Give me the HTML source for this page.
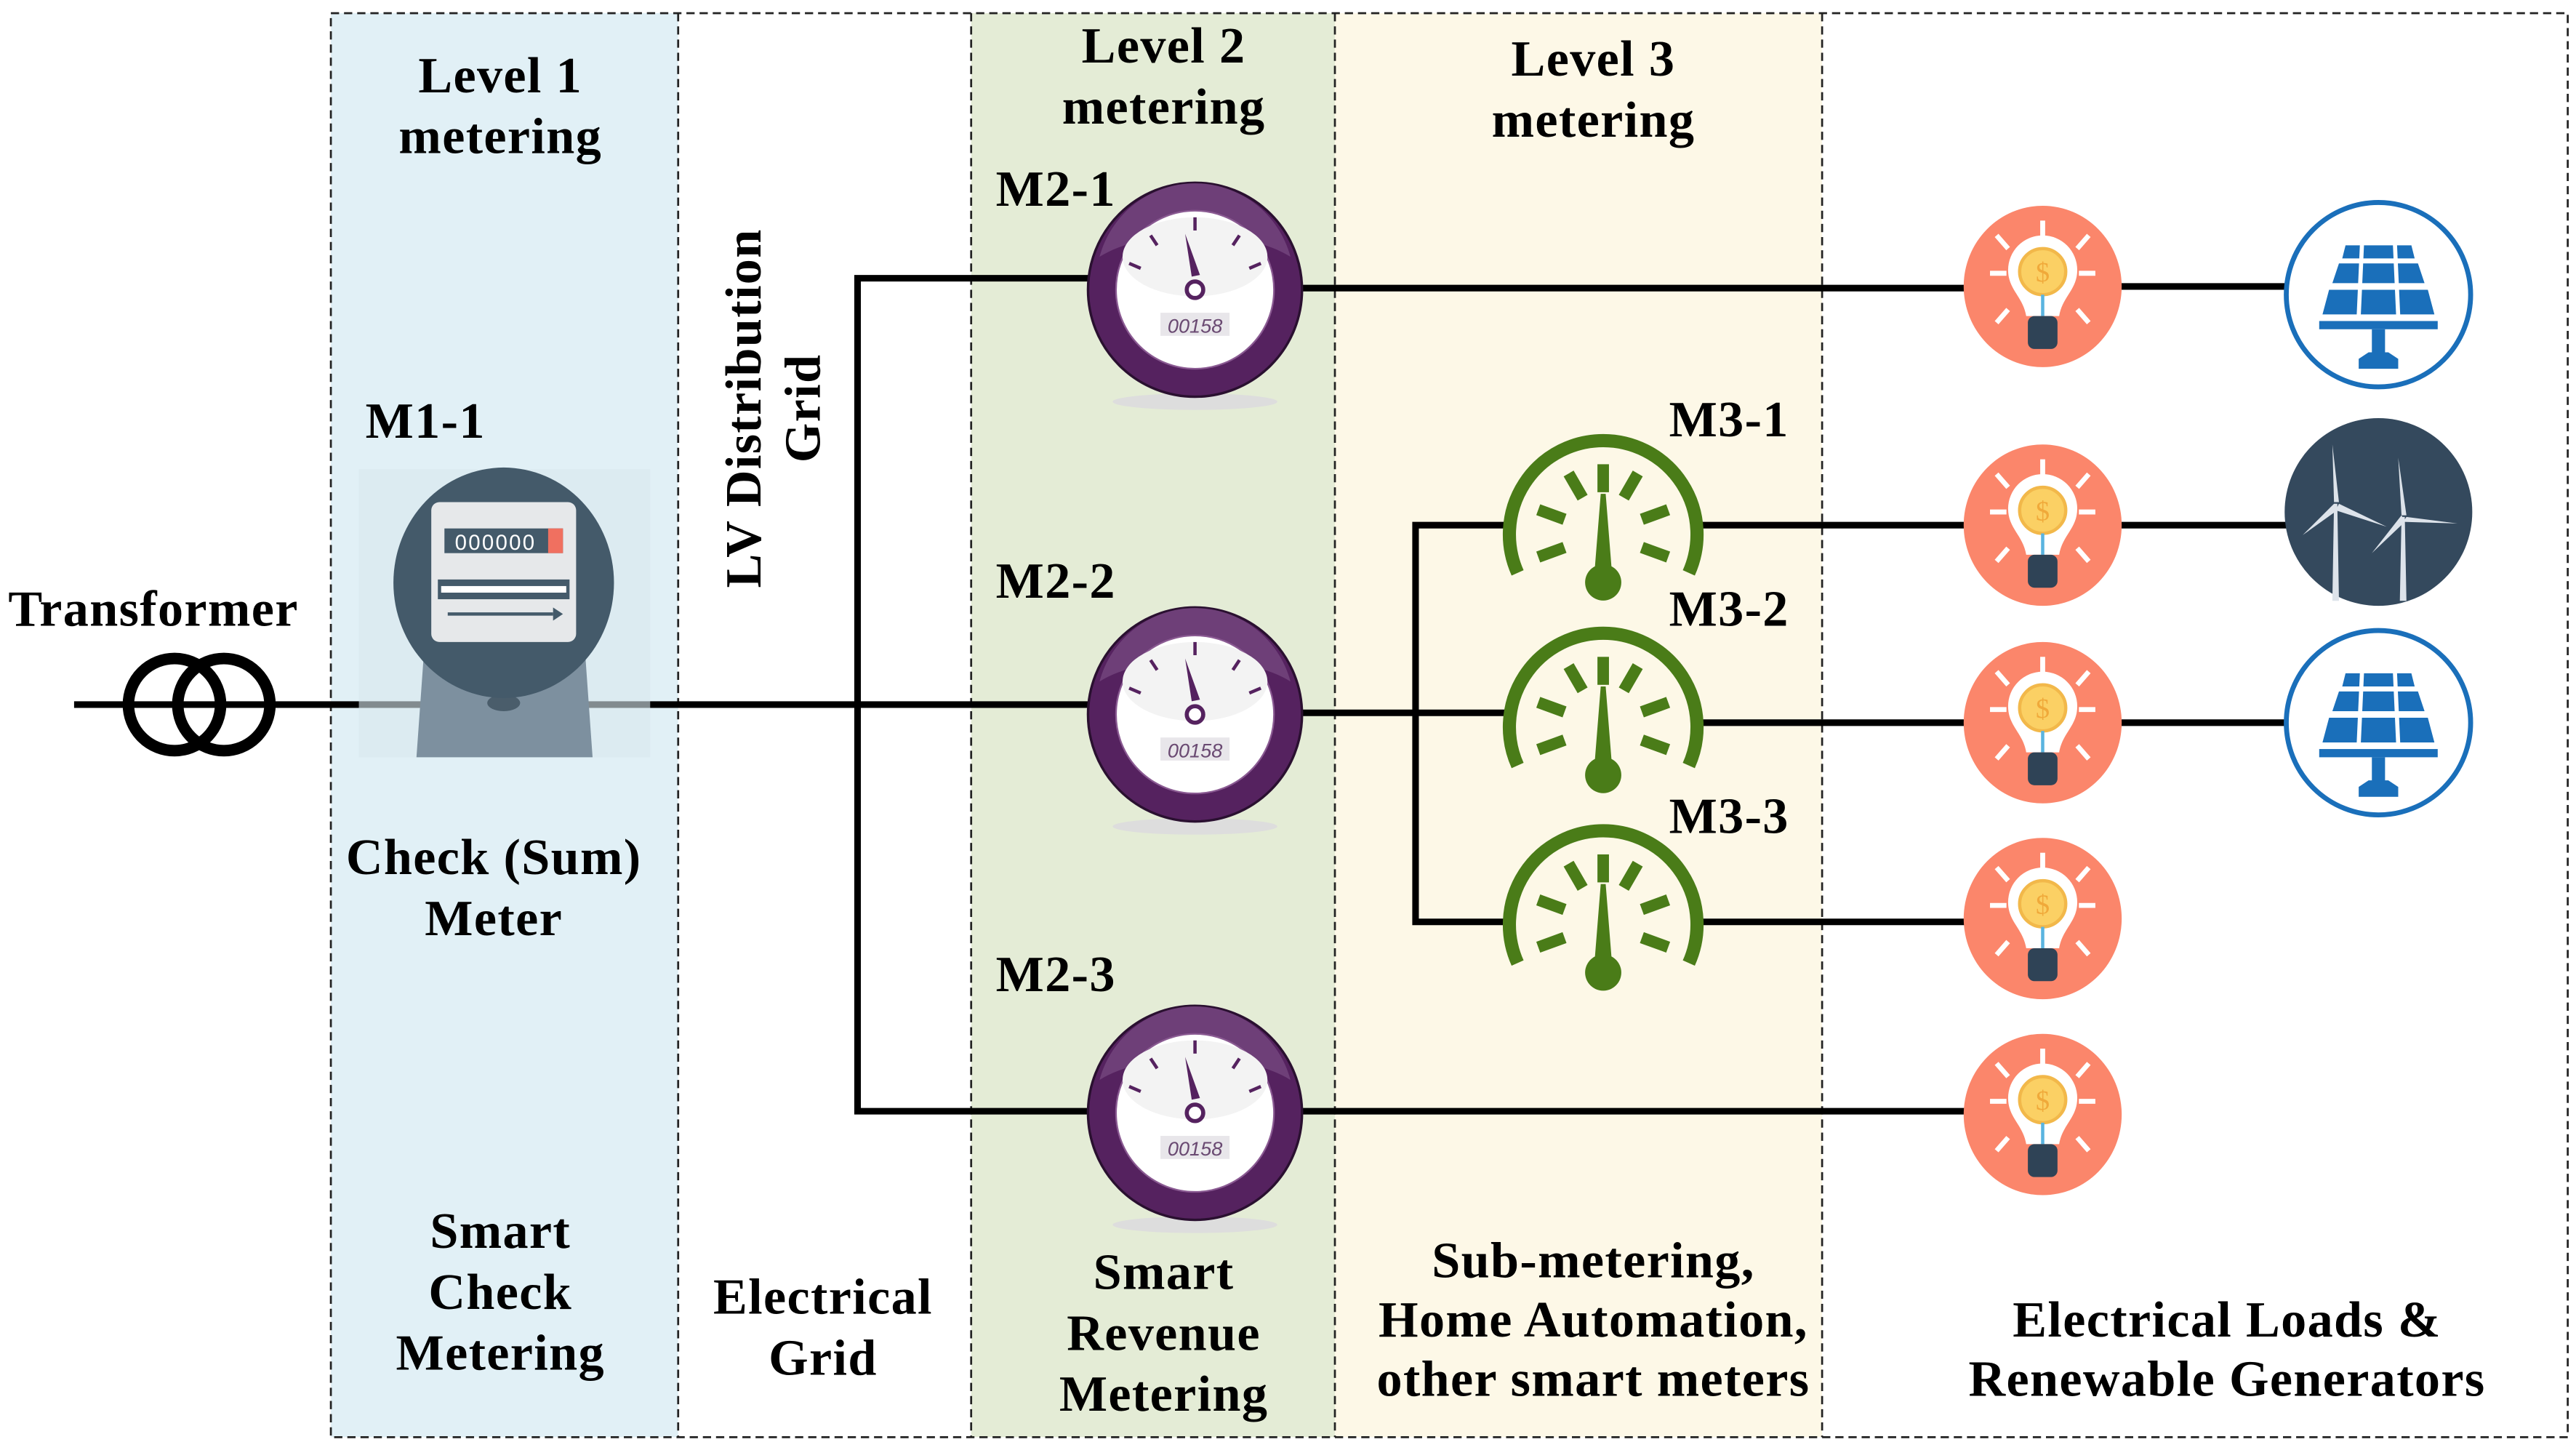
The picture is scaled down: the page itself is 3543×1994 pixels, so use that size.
<!DOCTYPE html>
<html><head><meta charset="utf-8"><style>
html,body{margin:0;padding:0;background:#fff;}
svg{display:block;}
text{font-family:"Liberation Serif",serif;font-weight:bold;fill:#000;}
.lb{letter-spacing:0.6px;}
</style></head><body>
<svg width="3543" height="1994" viewBox="0 0 1565 880.8" xmlns="http://www.w3.org/2000/svg">
<defs>
<g id="pm">
  <ellipse cx="0" cy="68" rx="50" ry="5" fill="#ddd"/>
  <circle r="65" fill="#55225f" stroke="#2a1030" stroke-width="1.5"/>
  <path d="M-58,-20 A60,60 0 0 1 58,-20 A70,30 0 0 0 -58,-20Z" fill="#6e3f78"/>
  <circle r="48" fill="#fff" stroke="#8a5a92" stroke-width="1"/>
  <ellipse cx="0" cy="-20" rx="44" ry="24" fill="#f3f3f3"/>
  <g stroke="#55225f" stroke-width="2">
    <line x1="0" y1="-44" x2="0" y2="-36"/><line x1="-27" y1="-33" x2="-23" y2="-27"/><line x1="27" y1="-33" x2="23" y2="-27"/>
    <line x1="-40" y1="-16" x2="-33" y2="-13"/><line x1="40" y1="-16" x2="33" y2="-13"/>
  </g>
  <polygon points="-6,-34 -2,-8 3,-9" fill="#55225f"/>
  <circle cx="0" cy="0" r="5" fill="#fff" stroke="#55225f" stroke-width="2.5"/>
  <rect x="-21" y="14" width="42" height="14" fill="#e8e6ea"/>
  <text x="0" y="26" font-size="12" text-anchor="middle" style="font-weight:normal;font-style:italic;fill:#6a4a72;font-family:'Liberation Sans',sans-serif">00158</text>
</g>
<g id="gg" fill="#4a7c18">
  <path d="M-52,24 A57,57 0 1 1 52,24" fill="none" stroke="#4a7c18" stroke-width="8"/>
  <rect x="-3.5" y="-42" width="7" height="17"/>
  <rect x="-3.5" y="-42" width="7" height="17" transform="rotate(-30)"/>
  <rect x="-3.5" y="-42" width="7" height="17" transform="rotate(30)"/>
  <rect x="-3.5" y="-42" width="7" height="17" transform="rotate(-70)"/>
  <rect x="-3.5" y="-42" width="7" height="17" transform="rotate(70)"/>
  <rect x="-3.5" y="-42" width="7" height="17" transform="rotate(-110)"/>
  <rect x="-3.5" y="-42" width="7" height="17" transform="rotate(110)"/>
  <path d="M-1.5,-24 L1.5,-24 L5,20 A11,11 0 1 1 -5,20Z"/>
</g>
<g id="bulb">
  <ellipse rx="48" ry="49" fill="#fb866b"/>
  <g stroke="#fff" stroke-width="3">
    <line x1="0" y1="-40" x2="0" y2="-30"/><line x1="-28" y1="-31" x2="-21" y2="-23"/><line x1="28" y1="-31" x2="21" y2="-23"/>
    <line x1="-32" y1="-8" x2="-22" y2="-8"/><line x1="32" y1="-8" x2="22" y2="-8"/>
    <line x1="-28" y1="22" x2="-21" y2="14"/><line x1="28" y1="22" x2="21" y2="14"/>
  </g>
  <path d="M-10,18 C-12,6 -21,2 -21,-10 A21,21 0 0 1 21,-10 C21,2 12,6 10,18Z" fill="#fff"/>
  <circle cx="0" cy="-9" r="14" fill="#fbd064" stroke="#f2b84a" stroke-width="2"/>
  <text x="0" y="-3" font-size="17" text-anchor="middle" style="fill:#f0a93a;font-weight:normal">$</text>
  <line x1="0" y1="5" x2="0" y2="18" stroke="#5ab4e0" stroke-width="2"/>
  <rect x="-9" y="18" width="18" height="20" rx="4" fill="#2f4356"/>
</g>
<g id="solar">
  <ellipse rx="56" ry="56" fill="#fff" stroke="#1a6fba" stroke-width="3"/>
  <g fill="#1a6fba">
    <polygon points="-34,12 34,12 30,-3 -30,-3"/>
    <polygon points="-28,-7 28,-7 24,-19 -24,-19"/>
    <polygon points="-22,-22 22,-22 20,-30 -20,-30"/>
    <rect x="-36" y="16" width="72" height="5"/>
    <rect x="-4" y="21" width="8" height="18"/>
    <path d="M-12,45 L-12,39 L-6,35 L6,35 L12,39 L12,45Z"/>
  </g>
  <g stroke="#fff" stroke-width="2.5"><line x1="-10" y1="-31" x2="-12" y2="13"/><line x1="10" y1="-31" x2="12" y2="13"/></g>
</g>
</defs>

<rect x="201" y="8" width="211" height="865" fill="#e1f0f6"/>
<rect x="590" y="8" width="221" height="865" fill="#e4ecd6"/>
<rect x="811" y="8" width="296" height="865" fill="#fdf8e7"/>
<g fill="none" stroke="#222" stroke-width="1.2" stroke-dasharray="5,3">
  <rect x="201" y="8" width="1359" height="865"/>
  <line x1="412" y1="8" x2="412" y2="873"/>
  <line x1="590" y1="8" x2="590" y2="873"/>
  <line x1="811" y1="8" x2="811" y2="873"/>
  <line x1="1107" y1="8" x2="1107" y2="873"/>
</g>

<g stroke="#000" stroke-width="4" fill="none">
  <line x1="45" y1="428" x2="662" y2="428"/>
  <polyline points="662,169 521,169 521,675 662,675"/>
  <line x1="790" y1="175" x2="1195" y2="175"/>
  <line x1="790" y1="433" x2="918" y2="433"/>
  <polyline points="918,319 860,319 860,560 918,560"/>
  <line x1="790" y1="675" x2="1195" y2="675"/>
  <line x1="1030" y1="319" x2="1195" y2="319"/>
  <line x1="1030" y1="439" x2="1195" y2="439"/>
  <line x1="1030" y1="560" x2="1195" y2="560"/>
  <line x1="1288" y1="174" x2="1390" y2="174"/>
  <line x1="1288" y1="319" x2="1390" y2="319"/>
  <line x1="1288" y1="439" x2="1390" y2="439"/>
</g>

<circle cx="106" cy="428" r="28" fill="none" stroke="#000" stroke-width="7"/>
<circle cx="136" cy="428" r="28" fill="none" stroke="#000" stroke-width="7"/>

<rect x="218" y="285" width="177" height="175" fill="#d9e7ee" opacity="0.6"/>
<path d="M258,390 L355,390 L360,460 L253,460Z" fill="#7d909f"/>
<path d="M262,390 C262,410 352,410 352,390Z" fill="#5f7585"/>
<ellipse cx="306" cy="427" rx="10" ry="5" fill="#4a5d6b"/>
<ellipse cx="306" cy="354" rx="67" ry="70" fill="#445a6a"/>
<rect x="262" y="305" width="88" height="85" rx="5" fill="#e6e8ea"/>
<rect x="270" y="321" width="72" height="15" fill="#445a6a"/>
<rect x="333" y="321" width="9" height="15" fill="#f07060"/>
<text x="301" y="334" font-size="13" text-anchor="middle" style="fill:#fff;font-weight:normal;font-family:'Liberation Sans',sans-serif;letter-spacing:1px">000000</text>
<rect x="266" y="352" width="80" height="12" fill="#445a6a"/>
<rect x="268" y="356" width="76" height="4" fill="#fff"/>
<line x1="272" y1="373" x2="336" y2="373" stroke="#445a6a" stroke-width="2"/>
<polygon points="336,369 342,373 336,377" fill="#445a6a"/>

<use href="#pm" x="726" y="176"/>
<use href="#pm" x="726" y="434"/>
<use href="#pm" x="726" y="676"/>
<use href="#gg" x="974" y="324"/>
<use href="#gg" x="974" y="441"/>
<use href="#gg" x="974" y="561"/>
<use href="#bulb" x="1241" y="174"/>
<use href="#bulb" x="1241" y="319"/>
<use href="#bulb" x="1241" y="439"/>
<use href="#bulb" x="1241" y="558"/>
<use href="#bulb" x="1241" y="677"/>
<use href="#solar" x="1445" y="179"/>
<use href="#solar" x="1445" y="439"/>
<ellipse cx="1445" cy="311" rx="57" ry="57" fill="#34495d"/>
<g fill="#dde3ea">
  <polygon points="1417,365 1421,365 1420,306 1418,306"/>
  <polygon points="1458,365 1462,365 1461,314 1459,314"/>
  <polygon points="1417,270 1421,305 1418,305"/>
  <polygon points="1421,306 1450,320 1419,310"/>
  <polygon points="1418,306 1399,325 1420,310"/>
  <polygon points="1457,278 1462,313 1459,313"/>
  <polygon points="1462,314 1493,318 1460,317"/>
  <polygon points="1459,313 1441,336 1461,317"/>
</g>

<g font-size="31" class="lb">
<text x="5" y="380">Transformer</text>
<text x="222" y="266">M1-1</text>
<text x="605" y="125">M2-1</text>
<text x="605" y="363">M2-2</text>
<text x="605" y="602">M2-3</text>
<text x="1014" y="265">M3-1</text>
<text x="1014" y="380">M3-2</text>
<text x="1014" y="506">M3-3</text>
</g>
<g font-size="31" text-anchor="middle" class="lb">
<text x="304" y="56">Level 1</text><text x="304" y="93">metering</text>
<text x="707" y="38">Level 2</text><text x="707" y="75">metering</text>
<text x="968" y="46">Level 3</text><text x="968" y="83">metering</text>
<text x="300" y="531">Check (Sum)</text><text x="300" y="568">Meter</text>
<text x="304" y="758">Smart</text><text x="304" y="795">Check</text><text x="304" y="832">Metering</text>
<text x="500" y="798">Electrical</text><text x="500" y="835">Grid</text>
<text x="707" y="783">Smart</text><text x="707" y="820">Revenue</text><text x="707" y="857">Metering</text>
<text x="968" y="776">Sub-metering,</text><text x="968" y="812">Home Automation,</text><text x="968" y="848">other smart meters</text>
<text x="1353" y="812">Electrical Loads &amp;</text><text x="1353" y="848">Renewable Generators</text>
<g transform="translate(462,248) rotate(-90)"><text x="0" y="0">LV Distribution</text></g>
<g transform="translate(498,248) rotate(-90)"><text x="0" y="0">Grid</text></g>
</g>
</svg>
</body></html>
